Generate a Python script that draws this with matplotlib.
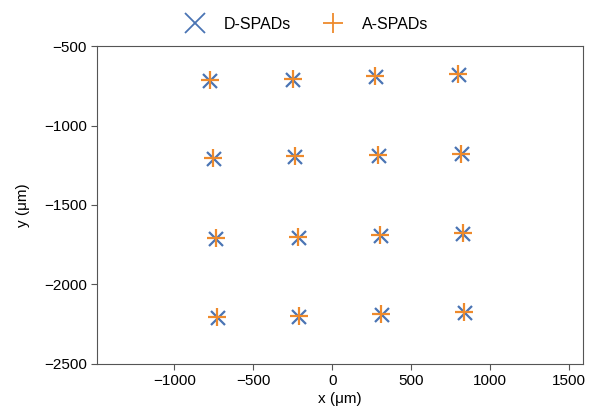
import numpy as np
import matplotlib.pyplot as plt

plt.rcParams['font.family'] = ['Liberation Sans', 'DejaVu Sans']

# positions of the 4x4 detector grid (um)
d_x = [-772, -247, 278, 804,
       -751, -234, 297, 821,
       -736, -213, 308, 831,
       -726, -209, 315, 842]
d_y = [-722, -712, -694, -682,
       -1208, -1200, -1192, -1182,
       -1716, -1706, -1696, -1683,
       -2214, -2204, -2194, -2182]
a_x = [-776, -251, 274, 800,
       -755, -238, 293, 817,
       -740, -217, 304, 827,
       -730, -213, 311, 838]
a_y = [-716, -706, -688, -676,
       -1202, -1194, -1186, -1176,
       -1710, -1700, -1690, -1677,
       -2208, -2198, -2188, -2176]

fig = plt.figure(figsize=(5.89, 4.12), dpi=100)
ax = fig.add_axes([0.165, 0.117, 0.825, 0.771])

ax.plot(d_x, d_y, 'x', color='#4a74b4', markersize=9.5, markeredgewidth=1.6, label='D-SPADs')
ax.plot(a_x, a_y, '+', color='#ee8a2c', markersize=13, markeredgewidth=1.6, label='A-SPADs')

ax.set_xlim(-1490, 1590)
ax.set_ylim(-2500, -500)
ax.set_xticks([-1000, -500, 0, 500, 1000, 1500])
ax.set_yticks([-2500, -2000, -1500, -1000, -500])
ax.tick_params(labelsize=11, color='#555555', length=4)
for s in ax.spines.values():
    s.set_color('#555555')
ax.set_xlabel('x (\u03bcm)', fontsize=11, labelpad=3)
ax.set_ylabel('y (\u03bcm)', fontsize=11, labelpad=10)

leg = ax.legend(loc='lower center', bbox_to_anchor=(0.425, 1.0), ncol=2, frameon=False,
                fontsize=11.5, handletextpad=0.8, columnspacing=1.6)
for h in leg.legend_handles:
    h.set_markersize(14)
    h.set_markeredgewidth(1.3)

fig.savefig('out.png', dpi=100)
